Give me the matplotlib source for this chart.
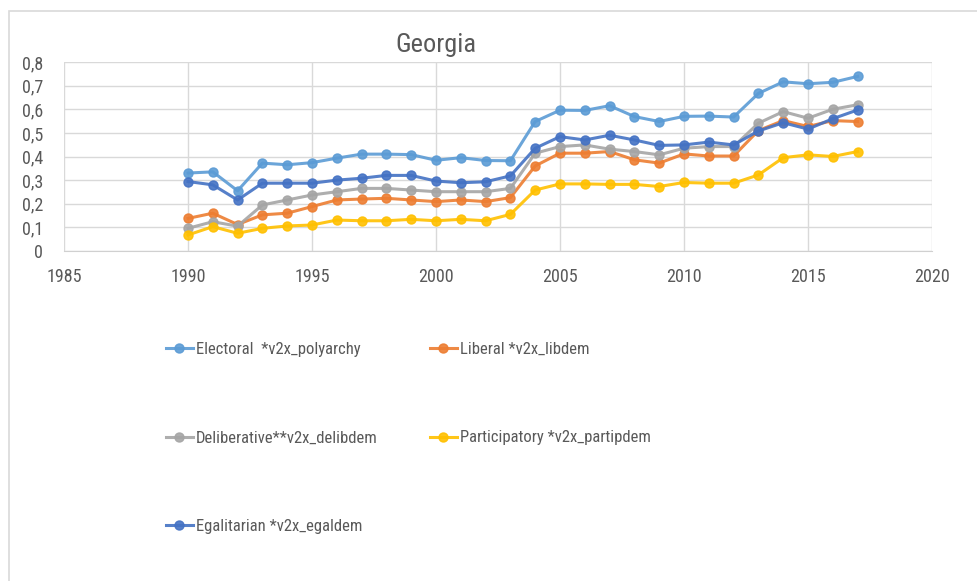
import matplotlib.pyplot as plt
from matplotlib.patches import Rectangle
from matplotlib.ticker import FuncFormatter

plt.rcParams['font.family'] = ['Liberation Sans Narrow', 'Roboto Condensed',
                               'Open Sans Condensed', 'Lato', 'DejaVu Sans']

years = list(range(1990, 2018))

electoral = [0.33, 0.335, 0.255, 0.372, 0.365, 0.374, 0.393, 0.41, 0.41, 0.408,
             0.384, 0.395, 0.383, 0.382, 0.548, 0.596, 0.595, 0.615, 0.569, 0.548,
             0.570, 0.571, 0.567, 0.667, 0.716, 0.708, 0.714, 0.739]
liberal = [0.138, 0.16, 0.112, 0.153, 0.16, 0.188, 0.216, 0.22, 0.223, 0.216,
           0.209, 0.216, 0.209, 0.226, 0.36, 0.414, 0.414, 0.421, 0.386, 0.372,
           0.411, 0.402, 0.402, 0.51, 0.552, 0.527, 0.552, 0.548]
deliberative = [0.096, 0.124, 0.105, 0.195, 0.216, 0.237, 0.251, 0.265, 0.265, 0.258,
                0.251, 0.251, 0.251, 0.265, 0.414, 0.442, 0.449, 0.431, 0.421, 0.407,
                0.435, 0.442, 0.442, 0.541, 0.59, 0.562, 0.60, 0.619]
participatory = [0.068, 0.103, 0.075, 0.096, 0.106, 0.11, 0.131, 0.128, 0.128, 0.134,
                 0.128, 0.134, 0.128, 0.155, 0.258, 0.284, 0.284, 0.282, 0.282, 0.273,
                 0.29, 0.287, 0.287, 0.322, 0.395, 0.407, 0.40, 0.421]
egalitarian = [0.294, 0.28, 0.216, 0.287, 0.287, 0.287, 0.30, 0.308, 0.32, 0.32,
               0.296, 0.289, 0.293, 0.318, 0.435, 0.484, 0.47, 0.49, 0.47, 0.447,
               0.449, 0.461, 0.449, 0.508, 0.543, 0.516, 0.56, 0.597]

labels = ["Electoral  *v2x_polyarchy", "Liberal *v2x_libdem",
          "Deliberative**v2x_delibdem", "Participatory *v2x_partipdem",
          "Egalitarian *v2x_egaldem"]
colors = ["#5B9BD5", "#ED7D31", "#A5A5A5", "#FFC000", "#4472C4"]
series = [electoral, liberal, deliberative, participatory, egalitarian]

W, H = 977, 581
fig = plt.figure(figsize=(W / 100, H / 100), dpi=100)
fig.patches.append(Rectangle((9 / W, -0.1), 1.2, 1 - 11 / H + 0.1,
                             transform=fig.transFigure, fill=False,
                             edgecolor="#D9D9D9", linewidth=1.2))

ax = fig.add_axes([64 / W, 1 - 251 / H, (932 - 64) / W, (251 - 62) / H])

handles = []
for vals, lab, col in zip(series, labels, colors):
    h, = ax.plot(years, vals, color=col, lw=2.2, marker="o", ms=6.5, label=lab, alpha=0.9)
    handles.append(h)

ax.set_xlim(1985, 2020)
ax.set_ylim(0, 0.8)
ax.set_xticks(range(1985, 2021, 5))
ax.set_yticks([i / 10 for i in range(9)])
ax.yaxis.set_major_formatter(FuncFormatter(lambda v, p: "0" if v == 0 else f"{v:.1f}".replace(".", ",")))
ax.grid(True, color="#D9D9D9", lw=1)
ax.set_axisbelow(True)
for s in ["top", "right", "left"]:
    ax.spines[s].set_visible(False)
ax.spines["bottom"].set_color("#D0D0D0")
ax.tick_params(length=0, labelsize=13, colors="#595959")
ax.tick_params(axis="x", pad=12)
ax.tick_params(axis="y", pad=15)

fig.text(436 / W, 1 - 45 / H, "Georgia", ha="center", va="center", fontsize=19, color="#595959")

leg_kw = dict(frameon=False, fontsize=12, handlelength=1.6, handletextpad=0.2,
              labelspacing=4.4, labelcolor="#595959", loc="upper left")
fig.legend([handles[0], handles[2], handles[4]], [labels[0], labels[2], labels[4]],
           bbox_to_anchor=(151 / W, 1 - 327 / H), **leg_kw)
fig.legend([handles[1], handles[3]], [labels[1], labels[3]],
           bbox_to_anchor=(415 / W, 1 - 327 / H), **leg_kw)

fig.savefig("out.png", dpi=100)
